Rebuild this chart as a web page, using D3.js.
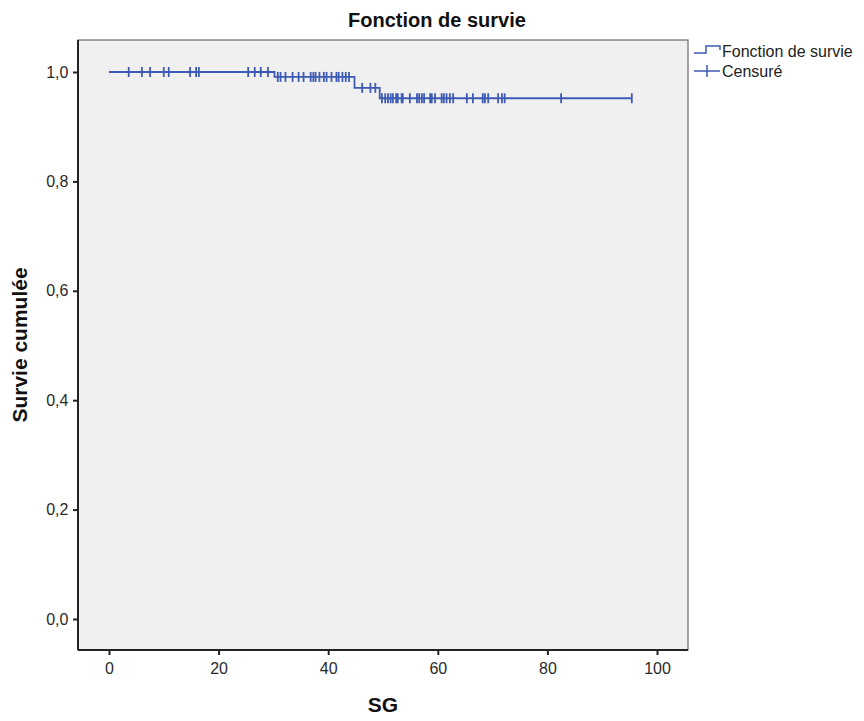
<!DOCTYPE html>
<html>
<head>
<meta charset="utf-8">
<script src="https://cdnjs.cloudflare.com/ajax/libs/d3/7.8.5/d3.min.js"></script>
<style>
body{margin:0;background:#fff;}
svg{display:block;font-family:"Liberation Sans",Arial,sans-serif;}
</style>
</head>
<body>
<svg id="chart" width="864" height="721"></svg>
<script>
// step function (time at which survival changes, survival from then on)
var stepTimes = [0, 30.2, 44.8, 49.4];
var stepSurv = [1.0, 0.991, 0.971, 0.952];
var endTime = 95.4;

// censored observations (SG)
var censored = [3.6, 6.0, 7.5, 10.0, 10.9, 14.8, 15.9, 16.4, 25.4, 26.6, 27.7, 29.0,
	30.8, 31.3, 32.2, 33.5, 34.6, 35.5, 36.8, 37.3, 37.7, 38.4, 39.2, 39.7, 40.6, 41.5, 41.9, 42.6, 43.2, 43.8,
	46.2, 47.7, 48.6,
	49.8, 50.4, 50.9, 51.4, 51.8, 52.4, 52.7, 53.4, 53.6, 54.9, 56.2, 56.6, 57.1, 57.5, 58.6, 58.9, 59.5,
	60.7, 61.1, 61.6, 62.2, 62.8, 65.3, 66.4, 68.2, 68.6, 69.2, 71.0, 71.7, 72.2, 82.5, 95.4];

var xTicks = [0, 20, 40, 60, 80, 100];
var yTicks = [0, 0.2, 0.4, 0.6, 0.8, 1.0];

var blue = "#3d5ab4";
var svg = d3.select("#chart");

var box = {left:78, top:40, right:688, bottom:650};

var x = d3.scaleLinear().domain([0,100]).range([109,657]);
var y = d3.scaleLinear().domain([0,1]).range([619,72]);

function survAt(t){
	var s = stepSurv[0];
	for(var i=0;i<stepTimes.length;i++){
		if(t>=stepTimes[i]) s = stepSurv[i];
	}
	return s;
}

// plot area
svg.append("rect")
	.attr("x",box.left).attr("y",box.top)
	.attr("width",box.right-box.left).attr("height",box.bottom-box.top)
	.attr("fill","#f0f0f0")
	.attr("stroke","#6a6a6a").attr("stroke-width",1.2);

// axes
var xAxis = d3.axisBottom(x).tickValues(xTicks).tickSize(5).tickSizeOuter(0).tickFormat(d3.format("d"));
var yAxis = d3.axisLeft(y).tickValues(yTicks).tickSize(5).tickSizeOuter(0)
	.tickFormat(function(d){return d.toFixed(1).replace(".",",");});

var gx = svg.append("g").attr("transform","translate(0,"+box.bottom+")").call(xAxis);
gx.select(".domain").attr("d","M"+box.left+",0H"+box.right).attr("stroke","#222").attr("stroke-width",2);
gx.selectAll(".tick line").attr("stroke","#222").attr("stroke-width",2);
gx.selectAll("text").attr("font-size",16).attr("fill","#2a2a2a").attr("dy","1.0em");

var gy = svg.append("g").attr("transform","translate("+box.left+",0)").call(yAxis);
gy.select(".domain").attr("d","M0,"+box.top+"V"+box.bottom).attr("stroke","#222").attr("stroke-width",2);
gy.selectAll(".tick line").attr("stroke","#222").attr("stroke-width",2);
gy.selectAll("text").attr("font-size",16).attr("fill","#2a2a2a").attr("dx","-0.1em");

// survival step line
var pts = [];
for(var i=0;i<stepTimes.length;i++){
	pts.push([stepTimes[i], stepSurv[i]]);
}
pts.push([endTime, stepSurv[stepSurv.length-1]]);
var line = d3.line().x(function(d){return x(d[0]);}).y(function(d){return y(d[1]);}).curve(d3.curveStepAfter);
svg.append("path").datum(pts)
	.attr("d",line).attr("fill","none").attr("stroke",blue).attr("stroke-width",1.8);

// censor marks
svg.append("g").selectAll("line").data(censored).enter().append("line")
	.attr("x1",function(d){return x(d);}).attr("x2",function(d){return x(d);})
	.attr("y1",function(d){return y(survAt(d))-5;}).attr("y2",function(d){return y(survAt(d))+5;})
	.attr("stroke",blue).attr("stroke-width",1.8);

// title and axis labels
svg.append("text").attr("x",437).attr("y",27).attr("text-anchor","middle")
	.attr("font-size",20).attr("font-weight","bold").attr("fill","#111").text("Fonction de survie");
svg.append("text").attr("x",383).attr("y",712).attr("text-anchor","middle")
	.attr("font-size",21).attr("font-weight","bold").attr("fill","#111").text("SG");
svg.append("text").attr("transform","translate(27,345) rotate(-90)").attr("text-anchor","middle")
	.attr("font-size",21).attr("font-weight","bold").attr("fill","#111").text("Survie cumulée");

// legend
var lg = svg.append("g");
lg.append("path").attr("d","M694,53H706V46H720V50").attr("fill","none").attr("stroke",blue).attr("stroke-width",1.5);
lg.append("text").attr("x",722).attr("y",57).attr("font-size",16).attr("fill","#222").text("Fonction de survie");
lg.append("path").attr("d","M694,71H720M707,65V77").attr("fill","none").attr("stroke",blue).attr("stroke-width",1.5);
lg.append("text").attr("x",722).attr("y",77).attr("font-size",16).attr("fill","#222").text("Censuré");
</script>
</body>
</html>
